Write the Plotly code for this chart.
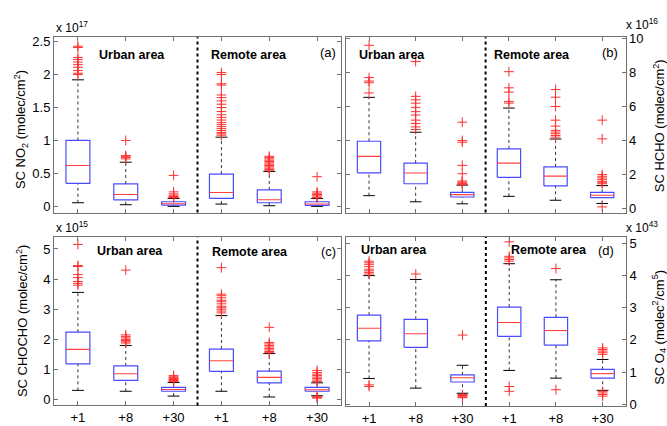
import plotly.graph_objects as go

# ---------------- data ----------------
horizons = ["+1", "+8", "+30"]
areas = ["Urban area", "Remote area"]
tick_labels = horizons + horizons

# Panel (a) SC NO2, x 1e17 molec/cm2
a_q1 = [0.35, 0.10, 0.02, 0.12, 0.055, 0.015]
a_med = [0.62, 0.18, 0.04, 0.21, 0.10, 0.035]
a_q3 = [1.00, 0.34, 0.07, 0.49, 0.25, 0.07]
a_lo = [0.055, 0.025, 0.0, 0.035, 0.01, 0.0]
a_hi = [1.92, 0.67, 0.12, 1.05, 0.53, 0.12]
a_out = [
    [2.43, 2.41, 2.26, 2.23, 2.19, 2.15, 2.11, 2.06, 2.02, 2.00],
    [1.00, 0.77, 0.76, 0.74, 0.72],
    [0.47, 0.22, 0.19, 0.17, 0.15, 0.14, 0.135, 0.13],
    [2.03, 2.00, 1.86, 1.84, 1.69, 1.65, 1.60, 1.55, 1.50, 1.44, 1.39, 1.35,
     1.31, 1.27, 1.24, 1.21, 1.18, 1.15, 1.12, 1.10, 1.08],
    [0.76, 0.74, 0.72, 0.70, 0.68, 0.66, 0.64, 0.62, 0.60, 0.58, 0.56, 0.55],
    [0.45, 0.22, 0.20, 0.18, 0.16, 0.14, 0.13],
]

# Panel (b) SC HCHO, x 1e16 molec/cm2
b_q1 = [2.10, 1.46, 0.68, 1.84, 1.33, 0.64]
b_med = [3.07, 2.09, 0.82, 2.67, 1.91, 0.78]
b_q3 = [3.96, 2.67, 0.95, 3.51, 2.45, 0.95]
b_lo = [0.76, 0.40, 0.28, 0.72, 0.49, 0.30]
b_hi = [6.54, 4.49, 1.38, 5.91, 4.09, 1.35]
b_out = [
    [9.6, 7.7, 7.5, 7.4, 6.8],
    [8.65, 6.6, 6.4, 6.2, 5.95, 5.7, 5.5, 5.2, 5.0, 4.8, 4.65],
    [5.08, 4.0, 3.9, 2.54, 2.05, 1.62, 1.56, 1.5, 1.46, 1.42],
    [8.05, 7.1, 6.85, 6.3, 6.2],
    [7.0, 6.55, 6.0, 5.2, 4.85, 4.6, 4.5, 4.4, 4.3, 4.2],
    [5.2, 4.1, 2.0, 1.9, 1.8, 1.7, 1.6, 1.52, 1.46, 0.1],
]

# Panel (c) SC CHOCHO, x 1e15 molec/cm2
c_q1 = [1.19, 0.64, 0.28, 0.94, 0.56, 0.28]
c_med = [1.67, 0.86, 0.34, 1.29, 0.74, 0.33]
c_q3 = [2.24, 1.12, 0.41, 1.68, 0.95, 0.41]
c_lo = [0.31, 0.28, 0.12, 0.28, 0.09, 0.13]
c_hi = [3.56, 1.80, 0.57, 2.79, 1.53, 0.56]
c_out = [
    [5.15, 4.45, 4.42, 4.15, 4.05, 3.92, 3.86, 3.8],
    [4.3, 2.15, 2.1, 2.05, 2.0, 1.96, 1.92, 1.88],
    [0.8, 0.76, 0.73, 0.7, 0.67, 0.64, 0.62, 0.6],
    [4.38, 3.5, 3.45, 3.38, 3.3, 3.25, 3.18, 3.1, 3.05, 3.0, 2.94, 2.88],
    [2.4, 1.9, 1.85, 1.8, 1.75, 1.7, 1.65, 1.6, 1.56],
    [0.97, 0.9, 0.85, 0.8, 0.75, 0.7, 0.65, 0.6, 0.1, 0.08, 0.05],
]

# Panel (d) SC O4, x 1e43 molec2/cm5
d_q1 = [1.97, 1.77, 0.69, 2.11, 1.84, 0.81]
d_med = [2.36, 2.19, 0.82, 2.54, 2.29, 0.95]
d_q3 = [2.77, 2.64, 0.91, 3.02, 2.70, 1.08]
d_lo = [0.80, 0.50, 0.34, 1.05, 0.81, 0.43]
d_hi = [4.00, 3.88, 1.21, 4.37, 3.87, 1.39]
d_out = [
    [4.45, 4.4, 4.35, 4.28, 4.2, 4.15, 4.1, 4.05, 0.6, 0.55],
    [4.05],
    [2.15, 0.3, 0.27, 0.25, 0.22, 0.2],
    [5.05, 4.6, 4.55, 4.5, 4.45, 0.55, 0.4],
    [4.22, 0.45],
    [1.75, 1.7, 1.65, 1.6, 1.55, 0.4, 0.35, 0.3, 0.25],
]

# ---------------- figure ----------------
W, H = 667, 426
FONT = "Liberation Sans, Arial, Helvetica, sans-serif"
BOX_HALF = 0.25
CAP_HALF = 0.125
AXCOL = "#707070"

panels = [
    dict(q1=a_q1, med=a_med, q3=a_q3, lo=a_lo, hi=a_hi, out=a_out, xa="x", ya="y",
         dom_x=[54 / W, 341 / W], dom_y=[1 - 213 / H, 1 - 32.3 / H],
         yr=[-0.093, 2.565], ytv=[0, 0.5, 1, 1.5, 2, 2.5], ytt=["0", "0.5", "1", "1.5", "2", "2.5"],
         side="left", bottom=False, label="(a)"),
    dict(q1=b_q1, med=b_med, q3=b_q3, lo=b_lo, hi=b_hi, out=b_out, xa="x2", ya="y2",
         dom_x=[345.7 / W, 625.5 / W], dom_y=[1 - 213 / H, 1 - 32.3 / H],
         yr=[-0.23, 10.07], ytv=[0, 2, 4, 6, 8, 10], ytt=["0", "2", "4", "6", "8", "10"],
         side="right", bottom=False, label="(b)"),
    dict(q1=c_q1, med=c_med, q3=c_q3, lo=c_lo, hi=c_hi, out=c_out, xa="x3", ya="y3",
         dom_x=[54 / W, 341 / W], dom_y=[1 - 412 / H, 1 - 238.5 / H],
         yr=[-0.19, 5.39], ytv=[0, 1, 2, 3, 4, 5], ytt=["0", "1", "2", "3", "4", "5"],
         side="left", bottom=True, label="(c)"),
    dict(q1=d_q1, med=d_med, q3=d_q3, lo=d_lo, hi=d_hi, out=d_out, xa="x4", ya="y4",
         dom_x=[345.7 / W, 626 / W], dom_y=[1 - 412.7 / H, 1 - 238.3 / H],
         yr=[-0.06, 5.2], ytv=[0, 1, 2, 3, 4, 5], ytt=["0", "1", "2", "3", "4", "5"],
         side="right", bottom=True, label="(d)"),
]

fig = go.Figure()
positions = list(range(1, len(tick_labels) + 1))

for p in panels:
    wx, wy, cx, cy, bx, by, mx, my, ox, oy = [], [], [], [], [], [], [], [], [], []
    for i, pos in enumerate(positions):
        q1, md, q3, lo, hi = p["q1"][i], p["med"][i], p["q3"][i], p["lo"][i], p["hi"][i]
        wx += [pos, pos, None, pos, pos, None]
        wy += [q3, hi, None, lo, q1, None]
        cx += [pos - CAP_HALF, pos + CAP_HALF, None, pos - CAP_HALF, pos + CAP_HALF, None]
        cy += [hi, hi, None, lo, lo, None]
        bx += [pos - BOX_HALF, pos + BOX_HALF, pos + BOX_HALF, pos - BOX_HALF, pos - BOX_HALF, None]
        by += [q1, q1, q3, q3, q1, None]
        mx += [pos - BOX_HALF, pos + BOX_HALF, None]
        my += [md, md, None]
        ox += [pos] * len(p["out"][i])
        oy += p["out"][i]
    common = dict(xaxis=p["xa"], yaxis=p["ya"], showlegend=False, hoverinfo="skip")
    fig.add_trace(go.Scatter(x=wx, y=wy, mode="lines",
                             line=dict(color="#333333", width=1, dash="dot"), **common))
    fig.add_trace(go.Scatter(x=cx, y=cy, mode="lines",
                             line=dict(color="black", width=1), **common))
    fig.add_trace(go.Scatter(x=bx, y=by, mode="lines",
                             line=dict(color="#4a4aff", width=1.2), **common))
    fig.add_trace(go.Scatter(x=mx, y=my, mode="lines",
                             line=dict(color="#ff4040", width=1.1), **common))
    fig.add_trace(go.Scatter(x=ox, y=oy, mode="markers",
                             marker=dict(symbol="cross-thin", size=7,
                                         line=dict(color="#ff3030", width=1), color="#ff3030"),
                             **common))

layout = dict(
    width=W, height=H,
    margin=dict(l=0, r=0, t=0, b=0),
    paper_bgcolor="white", plot_bgcolor="white",
    font=dict(family=FONT, size=13, color="black"),
)

annotations = []
shapes = []
divider = len(horizons) + 0.5

for k, p in enumerate(panels):
    sfx = "" if k == 0 else str(k + 1)
    layout["xaxis" + sfx] = dict(
        domain=p["dom_x"], range=[0.5, len(tick_labels) + 0.5],
        tickvals=positions, ticktext=tick_labels, showticklabels=p["bottom"],
        ticks="inside", ticklen=4, tickcolor=AXCOL,
        showline=True, linecolor=AXCOL, linewidth=1, mirror="ticks",
        showgrid=False, zeroline=False, anchor="y" + sfx,
        tickfont=dict(size=13, family=FONT, color="black"),
    )
    layout["yaxis" + sfx] = dict(
        domain=p["dom_y"], range=p["yr"], tickvals=p["ytv"], ticktext=p["ytt"],
        side=p["side"], ticks="inside", ticklen=4, tickcolor=AXCOL,
        showline=True, linecolor=AXCOL, linewidth=1, mirror="ticks",
        showgrid=False, zeroline=False, anchor="x" + sfx,
        tickfont=dict(size=13, family=FONT, color="black"),
    )
    shapes.append(dict(type="line", xref="x" + sfx, yref="y" + sfx + " domain",
                       x0=divider, x1=divider, y0=0, y1=1,
                       line=dict(color="black", width=2, dash="dot")))

# area labels, panel labels (paper positions in px)
area_pos = [
    [(131.5, 51), (249, 51)],
    [(392, 51), (532, 51)],
    [(129.5, 253), (249.5, 254)],
    [(394, 252), (548.5, 252)],
]
label_pos = [(328, 48), (610, 48), (328, 253), (605.5, 252)]
for k, p in enumerate(panels):
    for j, name in enumerate(areas):
        xx, yy = area_pos[k][j]
        annotations.append(dict(text="<b>" + name + "</b>", x=xx / W, y=1 - yy / H,
                                xref="paper", yref="paper", showarrow=False,
                                font=dict(size=12.5, family=FONT, color="black"),
                                xanchor="center", yanchor="middle"))
    lx, ly = label_pos[k]
    annotations.append(dict(text=p["label"], x=lx / W, y=1 - ly / H, xref="paper", yref="paper",
                            showarrow=False, font=dict(size=13, family=FONT, color="black"),
                            xanchor="center", yanchor="middle"))

# exponent labels
expo = [("x 10<sup>17</sup>", 54, 22, "left"), ("x 10<sup>16</sup>", 624, 19, "left"),
        ("x 10<sup>15</sup>", 54, 228, "left"), ("x 10<sup>43</sup>", 624, 228, "left")]
for t, xx, yy, anc in expo:
    annotations.append(dict(text=t, x=xx / W, y=1 - yy / H, xref="paper", yref="paper",
                            showarrow=False, font=dict(size=12, family=FONT, color="black"),
                            xanchor=anc, yanchor="middle"))

# y-axis titles
titles = [("SC NO<sub>2</sub> (molec/cm<sup>2</sup>)", 21, 128),
          ("SC HCHO (molec/cm<sup>2</sup>)", 659, 124),
          ("SC CHOCHO (molec/cm<sup>2</sup>)", 22, 325),
          ("SC O<sub>4</sub> (molec<sup>2</sup>/cm<sup>5</sup>)", 659, 332)]
for t, xx, yy in titles:
    annotations.append(dict(text=t, x=xx / W, y=1 - yy / H, xref="paper", yref="paper",
                            showarrow=False, textangle=-90,
                            font=dict(size=13, family=FONT, color="black"),
                            xanchor="center", yanchor="middle"))

layout["annotations"] = annotations
layout["shapes"] = shapes
fig.update_layout(**layout)
fig.write_html("out.html")
